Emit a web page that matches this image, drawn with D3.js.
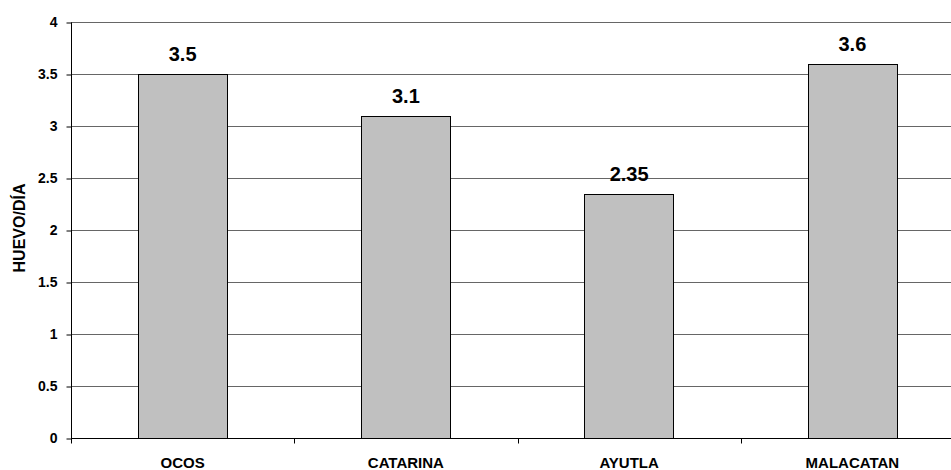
<!DOCTYPE html>
<html>
<head>
<meta charset="utf-8">
<script src="https://cdn.jsdelivr.net/npm/d3@7"></script>
<style>
  body { margin: 0; background: #fff; }
  text { font-family: "Liberation Sans", Arial, sans-serif; font-weight: bold; }
</style>
</head>
<body>
<div id="chart"></div>
<script>
var categories = ["OCOS", "CATARINA", "AYUTLA", "MALACATAN"];
var values = [3.5, 3.1, 2.35, 3.6];
var valueLabels = ["3.5", "3.1", "2.35", "3.6"];
var yTicks = [0, 0.5, 1, 1.5, 2, 2.5, 3, 3.5, 4];
var yTitle = "HUEVO/DÍA";

var width = 951, height = 470;
// plot area runs past the right edge of the picture, as in the original
var margin = {left: 71, top: 22};
var plotW = 893, plotH = 416;

var svg = d3.select("#chart").append("svg")
    .attr("width", width)
    .attr("height", height);

var x = d3.scaleBand().domain(categories).range([0, plotW]).paddingInner(0.6).paddingOuter(0.3);
var y = d3.scaleLinear().domain([0, 4]).range([plotH, 0]);

var g = svg.append("g").attr("transform", "translate(" + margin.left + "," + margin.top + ")");

// gridlines
g.selectAll(".grid")
    .data(yTicks.filter(function(d) { return d > 0; }))
    .enter().append("line")
    .attr("x1", 0).attr("x2", plotW)
    .attr("y1", function(d) { return Math.round(y(d)) + 0.5; })
    .attr("y2", function(d) { return Math.round(y(d)) + 0.5; })
    .attr("stroke", "#666").attr("stroke-width", 1);

// bars
g.selectAll(".bar")
    .data(values)
    .enter().append("rect")
    .attr("x", function(d, i) { return Math.round(x(categories[i])) + 0.5; })
    .attr("y", function(d) { return Math.round(y(d)) + 0.5; })
    .attr("width", Math.round(x.bandwidth()))
    .attr("height", function(d) { return plotH - Math.round(y(d)); })
    .attr("fill", "#c0c0c0")
    .attr("stroke", "#000").attr("stroke-width", 1);

g.selectAll(".vlabel")
    .data(values)
    .enter().append("text")
    .attr("x", function(d, i) { return x(categories[i]) + x.bandwidth() / 2; })
    .attr("y", function(d) { return y(d) - 13; })
    .attr("text-anchor", "middle")
    .attr("font-size", "20px")
    .attr("fill", "#000")
    .text(function(d, i) { return valueLabels[i]; });

// y axis
var yAxis = g.append("g")
    .attr("transform", "translate(0.5,0.5)")
    .call(d3.axisLeft(y).tickValues(yTicks).tickSize(5).tickPadding(9)
      .tickFormat(function(d) { return String(d); }));
yAxis.select(".domain").attr("d", "M0," + plotH + "V0");
yAxis.selectAll("text").attr("font-size", "14px").attr("fill", "#000");

// x axis with ticks at category boundaries
var xb = g.append("g").attr("transform", "translate(0," + (plotH + 0.5) + ")");
xb.append("line").attr("x1", 0).attr("x2", plotW).attr("stroke", "#000");
xb.selectAll(".xt")
    .data(d3.range(categories.length + 1))
    .enter().append("line")
    .attr("x1", function(i) { return Math.round(i * x.step()) + 0.5; })
    .attr("x2", function(i) { return Math.round(i * x.step()) + 0.5; })
    .attr("y1", 0).attr("y2", 5)
    .attr("stroke", "#000");
xb.selectAll(".xl")
    .data(categories)
    .enter().append("text")
    .attr("x", function(d) { return x(d) + x.bandwidth() / 2; })
    .attr("y", 29)
    .attr("text-anchor", "middle")
    .attr("font-size", "15px")
    .attr("fill", "#000")
    .text(function(d) { return d; });

svg.append("text")
    .attr("transform", "translate(25,228) rotate(-90)")
    .attr("text-anchor", "middle")
    .attr("font-size", "16px")
    .attr("fill", "#000")
    .text(yTitle);
</script>
</body>
</html>
